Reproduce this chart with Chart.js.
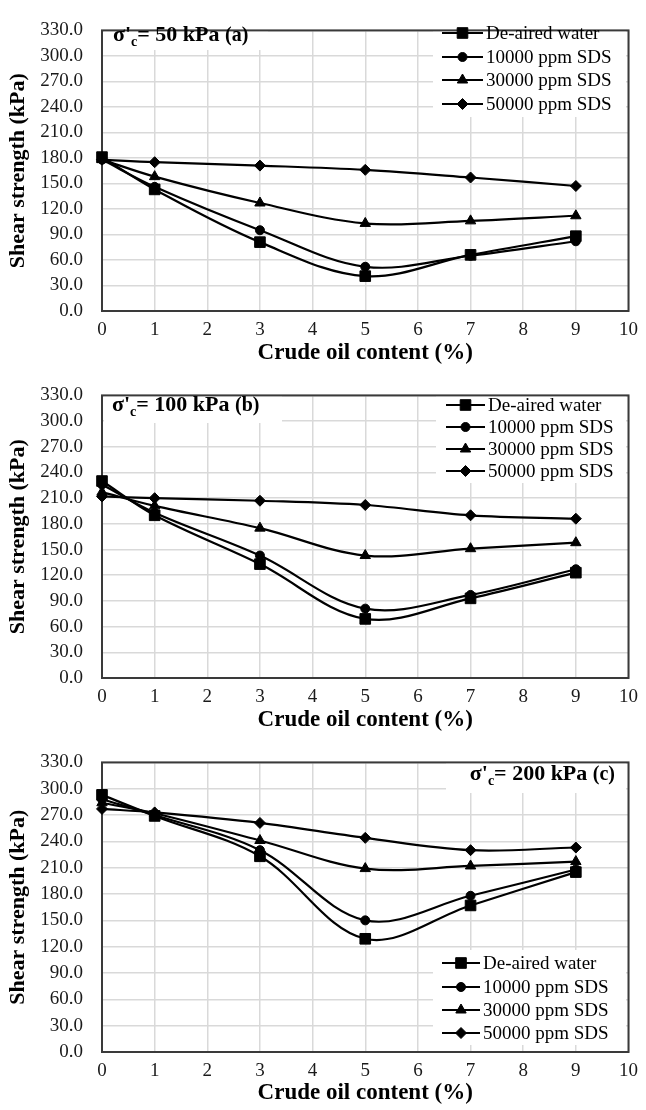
<!DOCTYPE html>
<html>
<head>
<meta charset="UTF-8">
<title>Shear strength vs crude oil content</title>
<script src="https://cdn.jsdelivr.net/npm/chart.js@4.4.0/dist/chart.umd.min.js"></script>
<style>
  body { margin: 0; background: #fff; }
  canvas { display: block; }
</style>
</head>
<body>
<canvas id="chartA" width="646" height="365"></canvas>
<canvas id="chartB" width="646" height="367"></canvas>
<canvas id="chartC" width="646" height="378"></canvas>
<script>
// crude oil content (%) on the x axis
const oilContent = [0, 1, 3, 5, 7, 9];
const seriesNames = ['De-aired water', '10000 ppm SDS', '30000 ppm SDS', '50000 ppm SDS'];
const markerStyles = ['rect', 'circle', 'triangle', 'rectRot'];

// sigma'c = 50 kPa (a)
const waterA = [181, 143, 81, 41, 66, 88];
const sds10A = [178, 146, 95, 52, 65, 82];
const sds30A = [178, 158, 127, 103, 106, 112];
const sds50A = [178, 175, 171, 166, 157, 147];

// sigma'c = 100 kPa (b)
const waterB = [230, 190, 133, 69, 93, 123];
const sds10B = [226, 193, 143, 81, 97, 127];
const sds30B = [217, 201, 175, 143, 151, 158];
const sds50B = [212, 210, 207, 202, 190, 186];

// sigma'c = 200 kPa (c)
const waterC = [293, 269, 223, 129, 167, 205];
const sds10C = [288, 270, 230, 150, 178, 208];
const sds30C = [284, 272, 241, 209, 212, 217];
const sds50C = [277, 273, 261, 244, 230, 233];

const SERIF = '"Liberation Serif", "Times New Roman", serif';
const markerSize = { rect: 7.5, circle: 4.5, triangle: 6, rectRot: 5.5 };

function drawNote(ctx, x, y, pressure, tag, alignRight) {
    const parts = [
        { t: "\u03C3'", f: 'bold 22px ' + SERIF, dy: 0 },
        { t: 'c', f: 'bold 14px ' + SERIF, dy: 5 },
        { t: '= ' + pressure + ' kPa ', f: 'bold 22px ' + SERIF, dy: 0 },
        { t: tag, f: 'bold 20px ' + SERIF, dy: 0 }
    ];
    let total = 0;
    parts.forEach(function (p) { ctx.font = p.f; p.w = ctx.measureText(p.t).width; total += p.w; });
    let cx = alignRight ? x - total : x;
    ctx.fillStyle = '#000';
    ctx.textBaseline = 'alphabetic';
    ctx.textAlign = 'left';
    parts.forEach(function (p) {
        ctx.font = p.f;
        ctx.fillText(p.t, cx, y + p.dy);
        cx += p.w;
    });
}

// white boxes, plot border, pressure note and legend
const panelDecor = {
    id: 'panelDecor',
    beforeDatasetsDraw(chart, args, opts) {
        const ctx = chart.ctx;
        const a = chart.chartArea;
        ctx.save();
        ctx.fillStyle = '#fff';
        opts.boxes.forEach(function (b) { ctx.fillRect(b[0], b[1], b[2] - b[0], b[3] - b[1]); });

        ctx.strokeStyle = '#3a3a3a';
        ctx.lineWidth = 2;
        ctx.strokeRect(a.left, a.top, a.right - a.left, a.bottom - a.top);

        drawNote(ctx, opts.note.x, opts.note.y, opts.note.pressure, opts.note.tag, opts.note.right);

        const lg = opts.legend;
        chart.data.datasets.forEach(function (ds, i) {
            const y = lg.rows[i];
            ctx.strokeStyle = '#000';
            ctx.lineWidth = 2.2;
            ctx.beginPath();
            ctx.moveTo(lg.x1, y);
            ctx.lineTo(lg.x2, y);
            ctx.stroke();
            ctx.fillStyle = '#000';
            ctx.lineWidth = 1;
            Chart.helpers.drawPoint(ctx, {
                pointStyle: ds.pointStyle, radius: ds.pointRadius, rotation: 0, borderWidth: 1
            }, (lg.x1 + lg.x2) / 2, y);
            ctx.font = '19px ' + SERIF;
            ctx.textBaseline = 'middle';
            ctx.textAlign = 'left';
            ctx.fillText(ds.label, lg.x2 + 3, y + 1);
        });
        ctx.restore();
    }
};

function makePanel(id, series, layout, note, legend, boxes) {
    const canvas = document.getElementById(id);
    const H = canvas.height;
    const datasets = series.map(function (values, i) {
        return {
            label: seriesNames[i],
            data: oilContent.map(function (x, k) { return { x: x, y: values[k] }; }),
            borderColor: '#000',
            backgroundColor: '#000',
            borderWidth: 2.2,
            pointStyle: markerStyles[i],
            pointRadius: markerSize[markerStyles[i]],
            pointBackgroundColor: '#000',
            pointBorderColor: '#000',
            pointBorderWidth: 1,
            tension: 0.35,
            clip: false
        };
    });
    return new Chart(canvas, {
        type: 'line',
        data: { datasets: datasets },
        options: {
            responsive: false,
            animation: false,
            layout: { padding: { top: layout.top, right: 11, left: 0, bottom: 0 } },
            plugins: {
                legend: { display: false },
                tooltip: { enabled: false },
                panelDecor: { note: note, legend: legend, boxes: boxes }
            },
            scales: {
                x: {
                    type: 'linear',
                    min: 0,
                    max: 10,
                    ticks: { stepSize: 1, autoSkip: false, maxRotation: 0, color: '#1a1a1a', padding: 8, font: { family: SERIF, size: 19 } },
                    grid: { color: '#d9d9d9', lineWidth: 1.5, drawTicks: false },
                    border: { display: false },
                    title: {
                        display: true,
                        text: 'Crude oil content (%)',
                        color: '#000',
                        font: { family: SERIF, size: 23, weight: 'bold', lineHeight: 1.2 },
                        padding: { top: 0, bottom: H - layout.titleY - 13.8 }
                    },
                    afterFit: function (scale) { scale.height = H - layout.bottom; }
                },
                y: {
                    min: 0,
                    max: 330,
                    ticks: {
                        stepSize: 30,
                        autoSkip: false,
                        color: '#1a1a1a',
                        padding: 19,
                        font: { family: SERIF, size: 19 },
                        callback: function (v) { return v.toFixed(1); }
                    },
                    grid: { color: '#d9d9d9', lineWidth: 1.5, drawTicks: false },
                    border: { display: false },
                    title: {
                        display: true,
                        text: 'Shear strength (kPa)',
                        color: '#000',
                        font: { family: SERIF, size: 22, weight: 'bold', lineHeight: 1.2 },
                        padding: { top: 5, bottom: 0 }
                    },
                    afterFit: function (scale) { scale.width = 102; }
                }
            }
        },
        plugins: [panelDecor]
    });
}

makePanel('chartA', [waterA, sds10A, sds30A, sds50A],
    { top: 13, bottom: 311, titleY: 353 },
    { x: 113, y: 41, pressure: '50', tag: '(a)', right: false },
    { x1: 442, x2: 483, rows: [33, 57, 80, 104] },
    [[104, 14, 268, 50], [433, 22, 626, 117]]);

makePanel('chartB', [waterB, sds10B, sds30B, sds50B],
    { top: 17, bottom: 313, titleY: 355 },
    { x: 112, y: 46, pressure: '100', tag: '(b)', right: false },
    { x1: 446, x2: 485, rows: [40, 62, 84, 106] },
    [[104, 18, 282, 58], [436, 27, 626, 118]]);

makePanel('chartC', [waterC, sds10C, sds30C, sds50C],
    { top: 19, bottom: 320, titleY: 361 },
    { x: 615, y: 48, pressure: '200', tag: '(c)', right: true },
    { x1: 442, x2: 480, rows: [231, 255, 278, 301] },
    [[446, 20, 626, 61], [433, 218, 626, 313]]);
</script>
</body>
</html>
